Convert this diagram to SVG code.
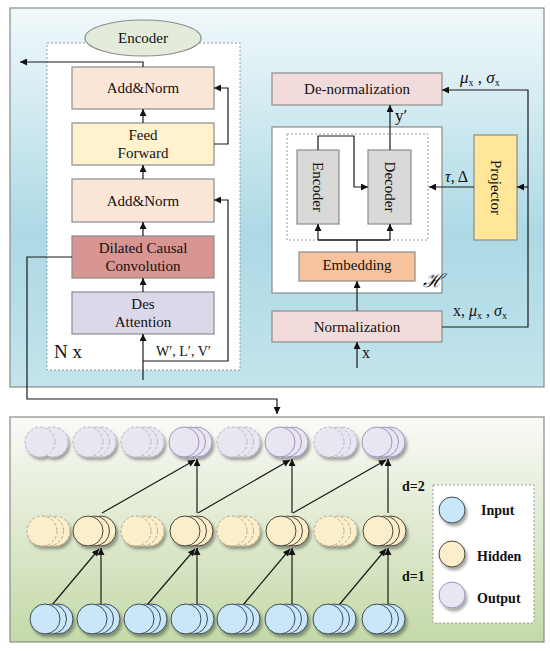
<svg xmlns="http://www.w3.org/2000/svg" width="550" height="651" viewBox="0 0 550 651">
<defs>
<linearGradient id="gTop" x1="0" y1="0" x2="0" y2="1">
<stop offset="0" stop-color="#f1f9fb"/>
<stop offset="0.6" stop-color="#acd9e5"/>
<stop offset="1" stop-color="#c3e4ec"/>
</linearGradient>
<linearGradient id="gBot" x1="0" y1="0" x2="0" y2="1">
<stop offset="0" stop-color="#f9faf6"/>
<stop offset="1" stop-color="#c4d9a8"/>
</linearGradient>
<marker id="arr" viewBox="0 0 10 10" refX="10" refY="5" markerUnits="userSpaceOnUse" markerWidth="8" markerHeight="7" orient="auto">
<path d="M0,0 L10,5 L0,10 z" fill="#111"/>
</marker>
<filter id="sh" x="-30%" y="-30%" width="160%" height="170%">
<feDropShadow dx="2" dy="3" stdDeviation="1.5" flood-color="#000" flood-opacity="0.35"/>
</filter>
</defs>
<style>
text{font-family:"Liberation Serif","Times New Roman",serif;fill:#111}
.t15{font-size:15px;text-anchor:middle}
.box{stroke:#8c8c8c;stroke-width:1.2}
.dash{fill:#fff;stroke:#9a9a9a;stroke-width:1;stroke-dasharray:2,2}
.con{fill:none;stroke:#1a1a1a;stroke-width:1.3}
.ca{fill:none;stroke:#1a1a1a;stroke-width:1.2;marker-end:url(#arr)}
.out circle{fill:#e9e5f1;stroke:#9e92c6;stroke-width:1}
.hid circle{fill:#fdeecb;stroke:#4a4436;stroke-width:1}
.inp circle{fill:#c9e7f8;stroke:#3d4a55;stroke-width:1}
.out.d circle{stroke:#b8b0cc;stroke-dasharray:3,2}
.hid.d circle{stroke:#b3a78a;stroke-dasharray:3,2}
.lg{font-size:14px;font-weight:bold}
</style>

<!-- panels -->
<rect x="10" y="8" width="534" height="379" fill="url(#gTop)" stroke="#8a8a8a" stroke-width="1.2"/>
<rect x="10" y="417" width="534" height="225" fill="url(#gBot)" stroke="#8a8a8a" stroke-width="1.2"/>

<!-- encoder block -->
<g id="encoder-block">
<rect x="47" y="43" width="193" height="327" class="dash"/>
<text x="54" y="358" style="font-size:19px">N x</text>
<text x="156" y="356" style="font-size:14px">W′, L′, V′</text>
</g>
<g id="encoder-title">
<ellipse cx="143" cy="38" rx="58" ry="18" fill="#e3ecdb" stroke="#8c8c8c" stroke-width="1.2"/>
<text x="143" y="43" class="t15">Encoder</text>
</g>
<g id="addnorm1">
<rect x="72" y="67" width="142" height="42" class="box" fill="#fbe6d8"/>
<text x="143" y="93" class="t15">Add&amp;Norm</text>
</g>
<g id="feedforward">
<rect x="72" y="123" width="142" height="42" class="box" fill="#fff2cc"/>
<text x="143" y="140" class="t15">Feed</text>
<text x="143" y="158" class="t15">Forward</text>
</g>
<g id="addnorm2">
<rect x="72" y="179" width="142" height="43" class="box" fill="#fbe6d8"/>
<text x="143" y="206" class="t15">Add&amp;Norm</text>
</g>
<g id="dilated">
<rect x="72" y="236" width="142" height="42" class="box" fill="#d99592"/>
<text x="143" y="253" class="t15">Dilated Causal</text>
<text x="143" y="271" class="t15">Convolution</text>
</g>
<g id="desattn">
<rect x="72" y="292" width="142" height="42" class="box" fill="#ddd7ea"/>
<text x="143" y="309" class="t15">Des</text>
<text x="143" y="327" class="t15">Attention</text>
</g>

<!-- right side -->
<g id="denorm">
<rect x="272" y="73" width="170" height="32" class="box" fill="#f2dcdb"/>
<text x="357" y="94" class="t15">De-normalization</text>
</g>
<g id="hbox">
<rect x="272" y="127" width="170" height="166" class="box" fill="#fff"/>
<rect x="287" y="134" width="141" height="106" class="dash"/>
<text x="423" y="287" style="font-size:19px;font-style:italic">ℋ</text>
</g>
<g id="enc2">
<rect x="297" y="150" width="42" height="74" class="box" fill="#d9d9d9"/>
<text class="t15" transform="translate(318,187) rotate(90)" y="5">Encoder</text>
</g>
<g id="dec">
<rect x="368" y="150" width="43" height="74" class="box" fill="#d9d9d9"/>
<text class="t15" transform="translate(389.5,187) rotate(90)" y="5">Decoder</text>
</g>
<g id="projector">
<rect x="474" y="135" width="43" height="105" class="box" fill="#ffe699"/>
<text class="t15" transform="translate(495.5,187.5) rotate(90)" y="5">Projector</text>
</g>
<g id="embedding">
<rect x="299" y="252" width="116" height="29" class="box" fill="#f7c29c"/>
<text x="357" y="270" class="t15">Embedding</text>
</g>
<g id="normalization">
<rect x="272" y="311" width="170" height="31" class="box" fill="#f2dcdb"/>
<text x="357" y="332" class="t15">Normalization</text>
</g>

<!-- labels -->
<g id="labels">
<text x="460" y="83" style="font-size:17px"><tspan font-style="italic">μ</tspan><tspan font-size="10" dy="3">x</tspan><tspan dy="-3"> , </tspan><tspan font-style="italic">σ</tspan><tspan font-size="10" dy="3">x</tspan></text>
<text x="395" y="121" style="font-size:17px">y′</text>
<text x="445" y="182" style="font-size:16px"><tspan font-style="italic">τ</tspan>,  Δ</text>
<text x="453" y="316" style="font-size:16px">x, <tspan font-style="italic">μ</tspan><tspan font-size="10" dy="3">x</tspan><tspan dy="-3"> , </tspan><tspan font-style="italic">σ</tspan><tspan font-size="10" dy="3">x</tspan></text>
<text x="362" y="358" style="font-size:16px">x</text>
<text x="402" y="491" class="lg">d=2</text>
<text x="402" y="581" class="lg">d=1</text>
</g>

<!-- connectors -->
<g id="connectors">
<path class="ca" d="M143,67 V62 H20"/>
<path class="ca" d="M143,123 V109"/>
<path class="ca" d="M143,179 V165"/>
<path class="ca" d="M143,236 V222"/>
<path class="ca" d="M143,292 V278"/>
<path class="ca" d="M143,380 V334"/>
<path class="ca" d="M214,144 H228 V88 H214"/>
<path class="ca" d="M143,361 H228 V200 H214"/>
<path class="ca" d="M72,257 H27 V399 H277 V414"/>
<path class="ca" d="M390,150 V105"/>
<path class="ca" d="M318,150 V136 H354 V187 H368"/>
<path class="con" d="M357,252 V240 M318,240 H390"/>
<path class="ca" d="M318,240 V224"/>
<path class="ca" d="M390,240 V224"/>
<path class="ca" d="M357,311 V281"/>
<path class="ca" d="M357,368 V342"/>
<path class="ca" d="M442,327 H528 V90 H442"/>
<path class="ca" d="M528,187 H517"/>
<path class="ca" d="M474,187 H429"/>
<!-- d=1 -->
<path class="ca" d="M52,605 L99,549"/>
<path class="ca" d="M101,605 V548"/>
<path class="ca" d="M147,605 L195,549"/>
<path class="ca" d="M197,605 V548"/>
<path class="ca" d="M243,605 L290,549"/>
<path class="ca" d="M292,605 V548"/>
<path class="ca" d="M339,605 L386,549"/>
<path class="ca" d="M388,605 V548"/>
<!-- d=2 -->
<path class="ca" d="M102,513 L195,460"/>
<path class="ca" d="M197,513 V459"/>
<path class="ca" d="M198,513 L290,460"/>
<path class="ca" d="M292,513 V459"/>
<path class="ca" d="M293,513 L386,460"/>
<path class="ca" d="M388,513 V459"/>
</g>

<!-- TCN nodes: output row -->
<g id="out1" class="out d" filter="url(#sh)"><circle cx="53" cy="442" r="15"/><circle cx="40" cy="442" r="15"/></g>
<g id="out2" class="out d" filter="url(#sh)"><circle cx="101" cy="442" r="15"/><circle cx="94.5" cy="442" r="15"/><circle cx="88" cy="442" r="15"/></g>
<g id="out3" class="out d" filter="url(#sh)"><circle cx="149" cy="442" r="15"/><circle cx="142.5" cy="442" r="15"/><circle cx="136" cy="442" r="15"/></g>
<g id="out4" class="out" filter="url(#sh)"><circle cx="197" cy="442" r="15"/><circle cx="190.5" cy="442" r="15"/><circle cx="184" cy="442" r="15"/></g>
<g id="out5" class="out d" filter="url(#sh)"><circle cx="245" cy="442" r="15"/><circle cx="238.5" cy="442" r="15"/><circle cx="232" cy="442" r="15"/></g>
<g id="out6" class="out" filter="url(#sh)"><circle cx="293" cy="442" r="15"/><circle cx="286.5" cy="442" r="15"/><circle cx="280" cy="442" r="15"/></g>
<g id="out7" class="out d" filter="url(#sh)"><circle cx="342" cy="442" r="15"/><circle cx="335.5" cy="442" r="15"/><circle cx="329" cy="442" r="15"/></g>
<g id="out8" class="out" filter="url(#sh)"><circle cx="390" cy="442" r="15"/><circle cx="383.5" cy="442" r="15"/><circle cx="377" cy="442" r="15"/></g>

<!-- hidden row -->
<g id="hid1" class="hid d" filter="url(#sh)"><circle cx="55" cy="531" r="15"/><circle cx="48.5" cy="531" r="15"/><circle cx="42" cy="531" r="15"/></g>
<g id="hid2" class="hid" filter="url(#sh)"><circle cx="101" cy="531" r="15"/><circle cx="94.5" cy="531" r="15"/><circle cx="88" cy="531" r="15"/></g>
<g id="hid3" class="hid d" filter="url(#sh)"><circle cx="149" cy="531" r="15"/><circle cx="142.5" cy="531" r="15"/><circle cx="136" cy="531" r="15"/></g>
<g id="hid4" class="hid" filter="url(#sh)"><circle cx="198" cy="531" r="15"/><circle cx="191.5" cy="531" r="15"/><circle cx="185" cy="531" r="15"/></g>
<g id="hid5" class="hid d" filter="url(#sh)"><circle cx="245" cy="531" r="15"/><circle cx="238.5" cy="531" r="15"/><circle cx="232" cy="531" r="15"/></g>
<g id="hid6" class="hid" filter="url(#sh)"><circle cx="294" cy="531" r="15"/><circle cx="287.5" cy="531" r="15"/><circle cx="281" cy="531" r="15"/></g>
<g id="hid7" class="hid d" filter="url(#sh)"><circle cx="342" cy="531" r="15"/><circle cx="335.5" cy="531" r="15"/><circle cx="329" cy="531" r="15"/></g>
<g id="hid8" class="hid" filter="url(#sh)"><circle cx="391" cy="531" r="15"/><circle cx="384.5" cy="531" r="15"/><circle cx="378" cy="531" r="15"/></g>

<!-- input row -->
<g id="in1" class="inp" filter="url(#sh)"><circle cx="58" cy="619" r="15"/><circle cx="51.5" cy="619" r="15"/><circle cx="45" cy="619" r="15"/></g>
<g id="in2" class="inp" filter="url(#sh)"><circle cx="105" cy="619" r="15"/><circle cx="98.5" cy="619" r="15"/><circle cx="92" cy="619" r="15"/></g>
<g id="in3" class="inp" filter="url(#sh)"><circle cx="152" cy="619" r="15"/><circle cx="145.5" cy="619" r="15"/><circle cx="139" cy="619" r="15"/></g>
<g id="in4" class="inp" filter="url(#sh)"><circle cx="199" cy="619" r="15"/><circle cx="192.5" cy="619" r="15"/><circle cx="186" cy="619" r="15"/></g>
<g id="in5" class="inp" filter="url(#sh)"><circle cx="245" cy="619" r="15"/><circle cx="238.5" cy="619" r="15"/><circle cx="232" cy="619" r="15"/></g>
<g id="in6" class="inp" filter="url(#sh)"><circle cx="293" cy="619" r="15"/><circle cx="286.5" cy="619" r="15"/><circle cx="280" cy="619" r="15"/></g>
<g id="in7" class="inp" filter="url(#sh)"><circle cx="341" cy="619" r="15"/><circle cx="334.5" cy="619" r="15"/><circle cx="328" cy="619" r="15"/></g>
<g id="in8" class="inp" filter="url(#sh)"><circle cx="390" cy="619" r="15"/><circle cx="383.5" cy="619" r="15"/><circle cx="377" cy="619" r="15"/></g>

<!-- legend -->
<g id="legend">
<rect x="433" y="485" width="101" height="138" class="dash"/>
<g class="inp" filter="url(#sh)"><circle cx="452" cy="510" r="13"/></g>
<g class="hid" filter="url(#sh)"><circle cx="452" cy="554" r="13"/></g>
<g class="out" filter="url(#sh)"><circle cx="452" cy="595" r="13"/></g>
<text x="481" y="515" class="lg">Input</text>
<text x="477" y="561" class="lg">Hidden</text>
<text x="477" y="603" class="lg">Output</text>
</g>
</svg>
